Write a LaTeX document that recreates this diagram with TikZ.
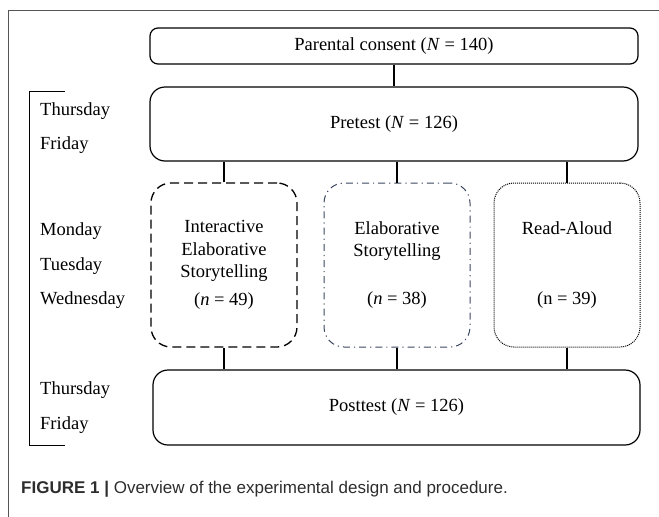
\documentclass[tikz,border=0pt]{standalone}
\usepackage{fontspec}
\setmainfont{Liberation Serif}
\newfontfamily\capfont{Liberation Sans}
\definecolor{slate}{RGB}{58,70,96}
\definecolor{framegray}{RGB}{85,85,85}
\definecolor{captext}{RGB}{45,45,45}
\begin{document}
\begin{tikzpicture}[x=1pt,y=-1pt,font=\fontsize{18.5}{22.5}\selectfont,
		solid box/.style={draw,line width=1.2pt,inner sep=0pt,minimum width=488pt},
		group/.style={rounded corners=20pt,minimum width=146pt,minimum height=164pt,align=center,inner sep=0pt},
		day/.style={anchor=west,inner sep=0pt}]
	\useasboundingbox (0,0) rectangle (659,517);
	\draw [framegray,line width=1pt] (8,517) -- (8,10) -- (659,10);
	% main steps
	\node [solid box,rounded corners=8pt,minimum height=36pt] (consent) at (394,46) {Parental consent (\textit{N} = 140)};
	\node [solid box,rounded corners=15pt,minimum height=74pt] (pre) at (394,124) {Pretest (\textit{N} = 126)};
	\node [group,draw,line width=1.3pt,dash pattern=on 9pt off 5pt] (g1) at (224,265) {Interactive\\Elaborative\\Storytelling\\[5.5pt](\textit{n} = 49)};
	\node [group,draw=slate,line width=1pt,dash pattern=on 7pt off 4pt on 1.2pt off 4pt] (g2) at (397,265) {Elaborative\\Storytelling\\[25.5pt](\textit{n} = 38)};
	\node [group,draw,line width=1pt,dash pattern=on 1pt off 1pt] (g3) at (567,265) {Read-Aloud\\[47.5pt](n = 39)};
	\node [solid box,rounded corners=15pt,minimum width=487pt,minimum height=75pt] (post) at (396.5,407.5) {Posttest (\textit{N} = 126)};
	% connectors
	\draw [line width=1.1pt] (consent) -- (pre);
	\foreach \g in {g1,g2,g3} {
		\draw [line width=1.1pt] (\g.north) -- (\g.north |- pre.south);
		\draw [line width=1.1pt] (\g.south) -- (\g.south |- post.north);
	}
	% days
	\draw [line width=0.9pt] (65,91) -- (29,91) -- (29,445) -- (65,445);
	\node [day] (d1) at (40,111) {Thursday};
	\node [day] (d2) at (40,145) {Friday};
	\node [day] (d3) at (40,231) {Monday};
	\node [day] (d4) at (40,266) {Tuesday};
	\node [day] (d5) at (40,300) {Wednesday};
	\node [day] (d6) at (40,390) {Thursday};
	\node [day] (d7) at (40,425) {Friday};
	\node [day,text=captext,font=\capfont\fontsize{17}{20}\selectfont] (cap) at (21,489) {\textbf{FIGURE 1 |} Overview of the experimental design and procedure.};
\end{tikzpicture}
\end{document}
